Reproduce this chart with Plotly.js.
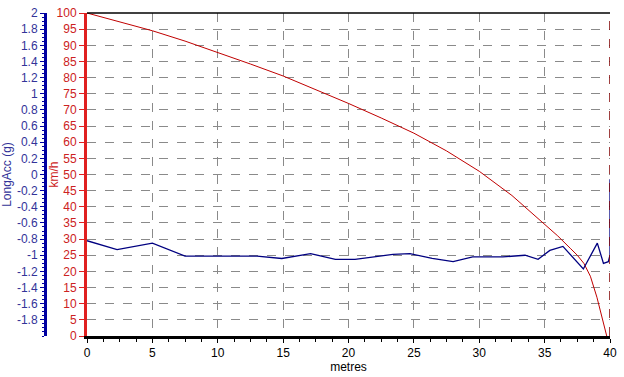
<!DOCTYPE html>
<html><head><meta charset="utf-8">
<script src="https://cdn.plot.ly/plotly-3.0.1.min.js"></script>
<style>html,body{margin:0;padding:0;background:#fff}</style>
</head><body>
<div id="chart" style="width:624px;height:377px"></div>
<script>
// Speed (km/h) vs distance (metres)
const speedMetres = [0, 2.5, 5, 7.5, 10, 12.5, 15, 17.5, 20, 22.5, 25, 27.5, 30, 32.5, 35, 36, 37, 37.5, 38, 38.5, 39, 39.3, 39.6, 39.75];
const speedKmh    = [100, 97.2, 94.5, 91.3, 87.8, 84.2, 80.5, 76.3, 72, 67.5, 62.8, 57.3, 51, 43.5, 34.5, 31, 27, 25, 22.5, 18.5, 12, 7, 2, 0];
// Longitudinal acceleration (g) vs distance (metres)
const accMetres = [0, 2.3, 5, 7.5, 13, 14.9, 17.1, 19, 20.5, 23.4, 24.7, 26.4, 28, 29.5, 31.8, 33.5, 34.5, 35.4, 36.4, 37.96, 39.03, 39.5, 39.87, 40, 40];
const accG      = [-0.82, -0.93, -0.85, -1.01, -1.01, -1.04, -0.98, -1.05, -1.05, -0.99, -0.98, -1.04, -1.08, -1.02, -1.02, -1.0, -1.05, -0.94, -0.89, -1.17, -0.85, -1.10, -1.08, -1.0, -0.06];
// Tick labels
const accTicks = [2, 1.8, 1.6, 1.4, 1.2, 1, 0.8, 0.6, 0.4, 0.2, 0, -0.2, -0.4, -0.6, -0.8, -1, -1.2, -1.4, -1.6, -1.8];
const accTickText = ["2", "1.8", "1.6", "1.4", "1.2", "1", "0.8", "0.6", "0.4", "0.2", "0", "-0.2", "-0.4", "-0.6", "-0.8", "-1", "-1.2", "-1.4", "-1.6", "-1.8"];
const cursorMetres = 40;

const font = {family: "Liberation Sans, Arial, sans-serif", size: 12};
const W = 624, L = 20, R = 14;
const pw = W - L - R;

const data = [
  {x: speedMetres, y: speedKmh, type: "scatter", mode: "lines", yaxis: "y",
   line: {color: "#C00000", width: 1}, hoverinfo: "skip"},
  {x: accMetres, y: accG, type: "scatter", mode: "lines", yaxis: "y2",
   line: {color: "#000080", width: 1.3}, hoverinfo: "skip"}
];

const layout = {
  width: 624, height: 377,
  margin: {l: L, r: R, t: 13, b: 41, pad: 0},
  paper_bgcolor: "#fff", plot_bgcolor: "#fff",
  showlegend: false,
  font: font,
  xaxis: {
    domain: [(87 - L) / pw, 1],
    range: [0, 40], dtick: 5, tick0: 0,
    showgrid: true, gridcolor: "#8a8a8a", griddash: "dash", gridwidth: 1,
    zeroline: false,
    showline: true, linecolor: "#000", linewidth: 3,
    ticks: "outside", ticklen: 4, tickcolor: "#000",
    minor: {dtick: 1.25, ticks: "outside", ticklen: 3, tickcolor: "#000", showgrid: false},
    tickfont: {family: font.family, size: 12, color: "#000"},
    title: {text: "metres", font: {family: font.family, size: 12, color: "#000"}, standoff: 2},
    fixedrange: true
  },
  yaxis: {
    range: [0, 100], dtick: 5, tick0: 0,
    showgrid: true, gridcolor: "#8a8a8a", griddash: "dash", gridwidth: 1,
    zeroline: false,
    showline: true, linecolor: "#E02020", linewidth: 3,
    ticks: "outside", ticklen: 5, tickcolor: "#E02020",
    tickfont: {family: font.family, size: 12, color: "#CC2222"},
    fixedrange: true
  },
  yaxis2: {
    overlaying: "y", side: "left", anchor: "free",
    position: (45 - L) / pw,
    range: [-2, 2],
    tickmode: "array", tickvals: accTicks, ticktext: accTickText,
    showgrid: false, zeroline: false,
    showline: true, linecolor: "#0000A0", linewidth: 3,
    ticks: "outside", ticklen: 4, tickcolor: "#0000A0",
    minor: {dtick: 0.05, tick0: 0, ticks: "outside", ticklen: 2, tickcolor: "#0000A0", showgrid: false},
    tickfont: {family: font.family, size: 12, color: "#333399"},
    title: {text: "LongAcc (g)", font: {family: font.family, size: 12, color: "#333399"}, standoff: 4},
    fixedrange: true
  },
  annotations: [
    {text: "km/h", xref: "paper", yref: "paper", x: (53 - L) / pw, y: 0.5,
     xanchor: "center", yanchor: "middle", textangle: -90, showarrow: false,
     font: {family: font.family, size: 12, color: "#CC2222"}}
  ],
  shapes: [
    {type: "line", xref: "x", yref: "paper", x0: 0, x1: 40, y0: 1, y1: 1,
     line: {color: "#000", width: 1.5}},
    {type: "line", xref: "x", yref: "paper", x0: cursorMetres, x1: cursorMetres, y0: 0, y1: 1,
     line: {color: "#800000", width: 1.5, dash: "dash"}}
  ]
};

Plotly.newPlot("chart", data, layout, {displayModeBar: false, staticPlot: true});
</script>
</body></html>
